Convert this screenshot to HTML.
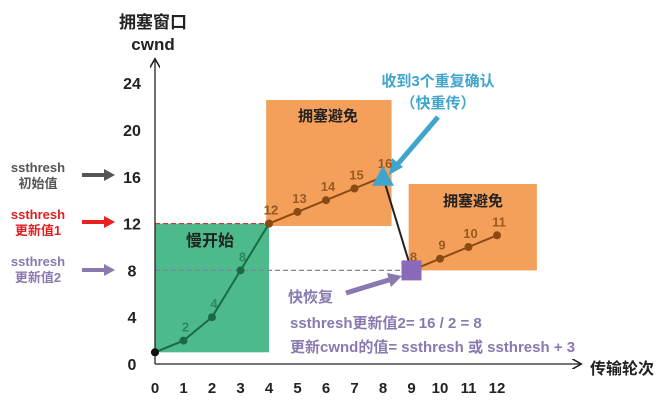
<!DOCTYPE html>
<html><head><meta charset="utf-8"><style>
body{margin:0;background:#fff;width:668px;height:408px;overflow:hidden}
svg{font-family:"Liberation Sans","Noto Sans CJK SC",sans-serif;font-weight:bold}
</style></head><body>
<svg id="c" width="668" height="408" viewBox="0 0 668 408" xmlns="http://www.w3.org/2000/svg">
<defs><marker id="ah" markerWidth="8" markerHeight="8" refX="6" refY="4" orient="auto"><path d="M0,0 L7,4 L0,8" fill="none" stroke="#222" stroke-width="1.2"/></marker></defs>
<g id="bg"></g><g id="marks"></g>
</svg>
<script>
const rounds=[0,1,2,3,4,5,6,7,8,9,10,11,12];
const yTicks=[0,4,8,12,16,20,24];
const slowStartX=[0,1,2,3,4];
const slowStartY=[1,2,4,8,12];
const avoid1X=[4,5,6,7,8];
const avoid1Y=[12,13,14,15,16];
const avoid2X=[9,10,11,12];
const avoid2Y=[8,9,10,11,12];
const ssthresh1=12, ssthresh2=8;
const X=v=>155+v*28.5, Y=v=>364-v*11.7;
const NS="http://www.w3.org/2000/svg";
const bg=document.getElementById('bg'), mk=document.getElementById('marks');
function el(p,t,a,txt){const e=document.createElementNS(NS,t);for(const k in a)e.setAttribute(k,a[k]);if(txt!=null)e.textContent=txt;p.appendChild(e);return e;}
let r=el(bg,'rect',{x:X(0),y:Y(12),width:X(4)-X(0),height:Y(1)-Y(12),fill:'#4dba8c'});

r=el(bg,'rect',{x:X(3.9),y:100,width:X(8.3)-X(3.9),height:Y(11.8)-100,fill:'#f5a05a'});

r=el(bg,'rect',{x:X(8.9),y:184,width:X(13.4)-X(8.9),height:Y(8)-184,fill:'#f5a05a'});

let d=el(bg,'line',{x1:X(0),x2:X(4),y1:Y(ssthresh1),y2:Y(ssthresh1),stroke:'#e03030','stroke-dasharray':'5,3','stroke-width':1.3});

d=el(bg,'line',{x1:X(0),x2:X(9),y1:Y(ssthresh2),y2:Y(ssthresh2),stroke:'#8a7aa8','stroke-dasharray':'5,3','stroke-width':1.3});

let a=el(bg,'line',{x1:X(0),y1:Y(0),x2:X(0),y2:60,stroke:'#222','stroke-width':1.3,'marker-end':'url(#ah)'});

a=el(bg,'line',{x1:X(0),y1:Y(0),x2:580,y2:Y(0),stroke:'#222','stroke-width':1.3,'marker-end':'url(#ah)'});

rounds.forEach(v=>{const t=el(bg,'text',{x:X(v),y:393,'text-anchor':'middle','font-size':15,fill:'#222'},v);
});
yTicks.forEach(v=>{const t=el(bg,'text',{x:132,y:Y(v)+6,'text-anchor':'middle','font-size':16,fill:'#222'},v);
});
function T(x,y,s,fs,fill,name,anchor){const t=el(bg,'text',{x:x,y:y,'font-size':fs,fill:fill,'text-anchor':anchor||'middle'},s);return t;}
T(153,28,'拥塞窗口',17,'#222','y-axis-title');
T(153,50,'cwnd',17,'#222','y-axis-unit');
T(622,374,'传输轮次',16,'#222','x-axis-title');
T(38,172,'ssthresh',13,'#555','ssthresh-initial-label');T(38,188,'初始值',13,'#555','ssthresh-initial-sub');
T(38,219,'ssthresh',13,'#e02020','ssthresh1-label');T(38,235,'更新值1',13,'#e02020','ssthresh1-sub');
T(38,266,'ssthresh',13,'#8a78b0','ssthresh2-label');T(38,282,'更新值2',13,'#8a78b0','ssthresh2-sub');
[[175,'#555'],[222,'#e82020'],[270,'#8a78b0']].forEach(([y,c])=>{const g=el(bg,'path',{d:`M82,${y-2}h22v-4l11,6l-11,6v-4h-22z`,fill:c});});
T(210,246,'慢开始',16,'#222','slow-start-label');
T(328,121,'拥塞避免',15,'#222','avoidance-label-1');
T(473,206,'拥塞避免',15,'#222','avoidance-label-2');
T(438,86,'收到3个重复确认',15,'#3fa5cc','triple-dupack-label');
T(438,108,'（快重传）',15,'#3fa5cc','fast-retransmit-label');
let ar=el(bg,'line',{x1:438,y1:117,x2:397,y2:165,stroke:'#3fa5cc','stroke-width':5});
ar=el(bg,'path',{d:'M389,175 L392,158 L403,167Z',fill:'#3fa5cc'});
T(288,302,'快恢复',15,'#8a78b0','fast-recovery-label','start');
ar=el(bg,'line',{x1:346,y1:293,x2:392,y2:279,stroke:'#8a78b0','stroke-width':5});
ar=el(bg,'path',{d:'M402,276 L387,273 L391,287Z',fill:'#8a78b0'});
T(290,328,'ssthresh更新值2= 16 / 2 = 8',15,'#8a78b0','formula-1','start');
T(290,352,'更新cwnd的值= ssthresh 或 ssthresh + 3',15,'#8a78b0','formula-2','start');
function series(xs,ys,lc,pc,tc,name,skipFirst){
 const pts=xs.map((x,i)=>X(x)+','+Y(ys[i])).join(' ');
 const pl=el(mk,'polyline',{points:pts,fill:'none',stroke:lc,'stroke-width':2});
 xs.forEach((x,i)=>{const c=el(mk,'circle',{cx:X(x),cy:Y(ys[i]),r:4,fill:pc});
  if(skipFirst&&i===0)return;
  const t=el(mk,'text',{x:X(x)+2,y:Y(ys[i])-9,'text-anchor':'middle','font-size':13,fill:tc},ys[i]);});
}
const dl=el(mk,'line',{x1:X(8),y1:Y(avoid1Y[4]),x2:X(9),y2:Y(avoid2Y[0]),stroke:'#222','stroke-width':2});
series(slowStartX,slowStartY,'#1a6b45','#1a6b45','#2a8a5c','slow-start',true);
series(avoid1X,avoid1Y,'#8b4a12','#8b4a12','#9a5a20','avoidance-1');
series(avoid2X,avoid2Y,'#8b4a12','#8b4a12','#9a5a20','avoidance-2');
const c0=el(mk,'circle',{cx:X(0),cy:Y(1),r:4,fill:'#111'});
const tx=X(8),ty=Y(16);
const tri=el(mk,'path',{d:`M${tx},${ty-11} L${tx+11},${ty+9} L${tx-11},${ty+9}Z`,fill:'#3fa5cc'});
const sq=el(mk,'rect',{x:X(9)-10,y:Y(8)-10,width:20,height:20,fill:'#8a6ab8'});
</script>
</body></html>
